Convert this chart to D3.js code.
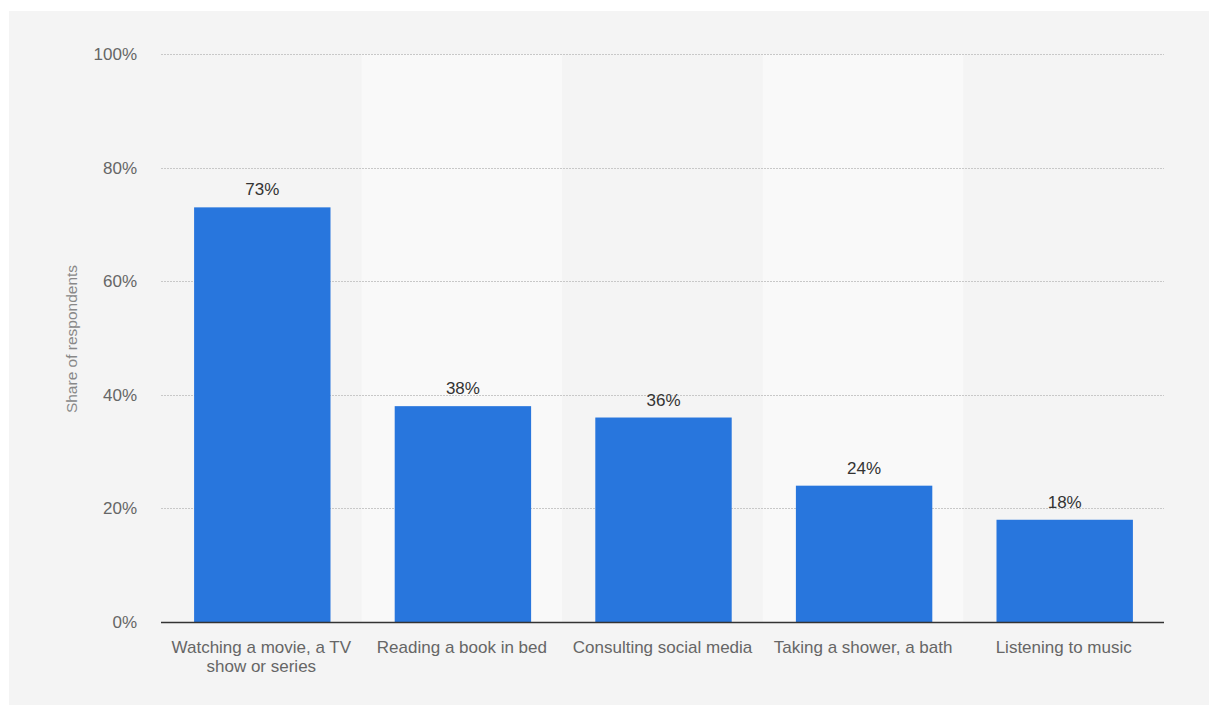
<!DOCTYPE html>
<html>
<head>
<meta charset="utf-8">
<script src="https://cdn.jsdelivr.net/npm/d3@7"></script>
<style>
  html, body { margin: 0; padding: 0; background: #ffffff; }
  svg { display: block; }
  text { font-family: "Liberation Sans", Arial, Helvetica, sans-serif; }
</style>
</head>
<body>
<svg id="chart" width="1209" height="706"></svg>
<script>
const categories = [
  ["Watching a movie, a TV", "show or series"],
  ["Reading a book in bed"],
  ["Consulting social media"],
  ["Taking a shower, a bath"],
  ["Listening to music"]
];
const values = [73, 38, 36, 24, 18];
const yTicks = [0, 20, 40, 60, 80, 100];
const yAxisTitle = "Share of respondents";

const svg = d3.select("#chart");
const W = 1209, H = 706;
const margin = { left: 161, right: 45, top: 54, bottom: 84 };
const plotW = W - margin.left - margin.right;
const plotH = H - margin.top - margin.bottom;

// panel background
svg.append("rect").attr("x", 9).attr("y", 11).attr("width", W - 9).attr("height", H - 12)
  .attr("fill", "#f4f4f4");

const g = svg.append("g").attr("transform", `translate(${margin.left},${margin.top})`);

const idx = categories.map((d, i) => i);
const x = d3.scaleBand().domain(idx).range([1, plotW + 1]).paddingInner(0.32).paddingOuter(0.16);
const xBand = d3.scaleBand().domain(idx).range([0, plotW]).padding(0);
const y = d3.scaleLinear().domain([0, 100]).range([plotH, 0]);

// alternating bands
g.selectAll("rect.band").data(idx).enter().append("rect")
  .attr("class", "band")
  .attr("x", d => xBand(d)).attr("y", 0)
  .attr("width", xBand.bandwidth()).attr("height", plotH)
  .attr("fill", d => d % 2 === 1 ? "#f9f9f9" : "#f4f4f4");

// gridlines
g.selectAll("line.grid").data(yTicks.filter(t => t > 0)).enter().append("line")
  .attr("class", "grid")
  .attr("x1", 0).attr("x2", plotW)
  .attr("y1", d => Math.round(y(d)) + 0.5).attr("y2", d => Math.round(y(d)) + 0.5)
  .attr("stroke", "#c8c8c8").attr("stroke-width", 1).attr("stroke-dasharray", "2,1");

// y axis
const yAxis = d3.axisLeft(y).tickValues(yTicks).tickFormat(d => d + "%").tickSize(0).tickPadding(24);
const ya = g.append("g").call(yAxis);
ya.select(".domain").remove();
ya.selectAll("text").attr("fill", "#666").style("font-size", "17px");

// bars
g.selectAll("rect.bar").data(values).enter().append("rect")
  .attr("class", "bar")
  .attr("x", (d, i) => x(i)).attr("y", d => y(d))
  .attr("width", x.bandwidth()).attr("height", d => plotH - y(d))
  .attr("fill", "#2876dd");

// value labels
g.selectAll("text.val").data(values).enter().append("text")
  .attr("class", "val")
  .attr("x", (d, i) => x(i) + x.bandwidth() / 2)
  .attr("y", d => y(d) - 12)
  .attr("text-anchor", "middle")
  .attr("fill", "#333").style("font-size", "17px")
  .text(d => d + "%");

// baseline
g.append("line").attr("x1", 0).attr("x2", plotW)
  .attr("y1", plotH + 0.5).attr("y2", plotH + 0.5)
  .attr("stroke", "#333").attr("stroke-width", 1.5);

// x axis labels
const xAxis = d3.axisBottom(xBand).tickSize(0).tickPadding(0).tickFormat("");
const xa = g.append("g").attr("transform", `translate(0,${plotH})`).call(xAxis);
xa.select(".domain").remove();
xa.selectAll(".tick").each(function(d) {
  const t = d3.select(this).append("text")
    .attr("text-anchor", "middle").attr("fill", "#666").style("font-size", "17px")
    .attr("y", 31);
  categories[d].forEach((line, k) => {
    t.append("tspan").attr("x", 0).attr("dy", k === 0 ? 0 : 19).text(line);
  });
});

// y axis title
svg.append("text")
  .attr("transform", `translate(77,339) rotate(-90)`)
  .attr("text-anchor", "middle").attr("fill", "#888").style("font-size", "15.5px")
  .text(yAxisTitle);
</script>
</body>
</html>
